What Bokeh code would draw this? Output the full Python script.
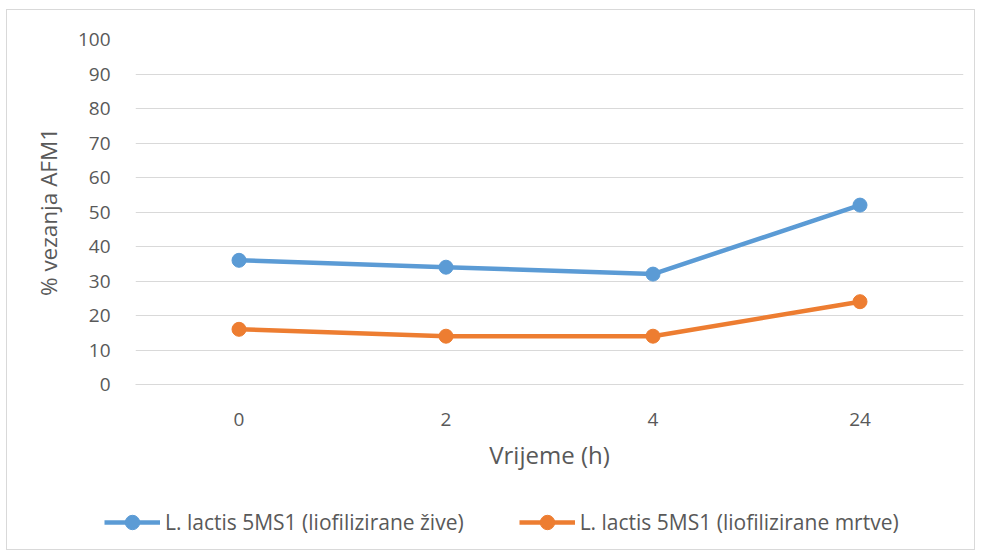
from bokeh.plotting import figure
from bokeh.layouts import column
from bokeh.models import FactorRange, Range1d, Legend, LegendItem, SingleIntervalTicker
from bokeh.embed import file_html
from bokeh.resources import INLINE

categories = ["0", "2", "4", "24"]
live_values = [36, 34, 32, 52]
dead_values = [16, 14, 14, 24]
series_names = ["L. lactis 5MS1 (liofilizirane žive)", "L. lactis 5MS1 (liofilizirane mrtve)"]
colors = ["#5B9BD5", "#ED7D31"]

FONT = "Open Sans"
TXT = "#595959"

p = figure(width=969, height=480, x_range=FactorRange(*categories), y_range=Range1d(0, 100),
           output_backend="svg", toolbar_location=None,
           min_border_left=129, min_border_right=12, min_border_top=30, min_border_bottom=105)
p.outline_line_color = None
p.x_range.range_padding = 0
p.background_fill_alpha = 0
p.border_fill_alpha = 0

p.xgrid.grid_line_color = None
p.ygrid.grid_line_color = "#d9d9d9"
p.ygrid.grid_line_width = 1
p.yaxis.ticker = SingleIntervalTicker(interval=10)

for ax in (p.xaxis, p.yaxis):
    ax.major_tick_line_color = None
    ax.minor_tick_line_color = None
    ax.major_label_text_font = FONT
    ax.major_label_text_color = TXT
    ax.major_label_text_font_size = "19px"
    ax.axis_label_text_font = FONT
    ax.axis_label_text_color = TXT
    ax.axis_label_text_font_style = "normal"

p.xaxis.axis_label_text_font_size = "24px"
p.yaxis.axis_label_text_font_size = "22.5px"
p.yaxis.axis_line_color = None
p.xaxis.axis_line_color = "#d9d9d9"
p.yaxis.major_label_standoff = 19
p.yaxis.axis_label = "% vezanja AFM1"
p.yaxis.axis_label_standoff = 11
p.xaxis.major_label_standoff = 22
p.xaxis.axis_label = "Vrijeme (h)"
p.xaxis.axis_label_standoff = 9

# legend strip below the chart (same series, drawn outside its visible range)
q = figure(width=969, height=61, x_range=FactorRange(*categories), y_range=Range1d(1000, 1100),
           output_backend="svg", toolbar_location=None,
           min_border_left=0, min_border_right=0, min_border_top=0, min_border_bottom=0)
q.axis.visible = False
q.grid.visible = False
q.outline_line_color = None
q.background_fill_alpha = 0
q.border_fill_alpha = 0
q.styles = {"transform": "translateX(-40px)"}

items = []
for vals, name, c in zip([live_values, dead_values], series_names, colors):
    p.line(categories, vals, line_color=c, line_width=4.5)
    p.scatter(categories, vals, size=14, fill_color=c, line_color=c)
    l = q.line(categories, vals, line_color=c, line_width=4.5)
    s = q.scatter(categories, vals, size=14, fill_color=c, line_color=c)
    items.append(LegendItem(label=name, renderers=[l, s]))

legend = Legend(items=items, orientation="horizontal", location=(9, 10),
                border_line_color=None, background_fill_alpha=0, padding=0, margin=0,
                spacing=55, glyph_width=56, glyph_height=36, label_standoff=5,
                label_text_font=FONT, label_text_color=TXT, label_text_font_size="21px")
q.add_layout(legend, "center")

layout = column(p, q, spacing=0)
layout.styles = {"outline": "1px solid #d9d9d9", "outline-offset": "-1px",
                 "margin-left": "6px", "margin-top": "9px", "background-color": "white"}

open("out.html", "w").write(file_html(layout, INLINE))
